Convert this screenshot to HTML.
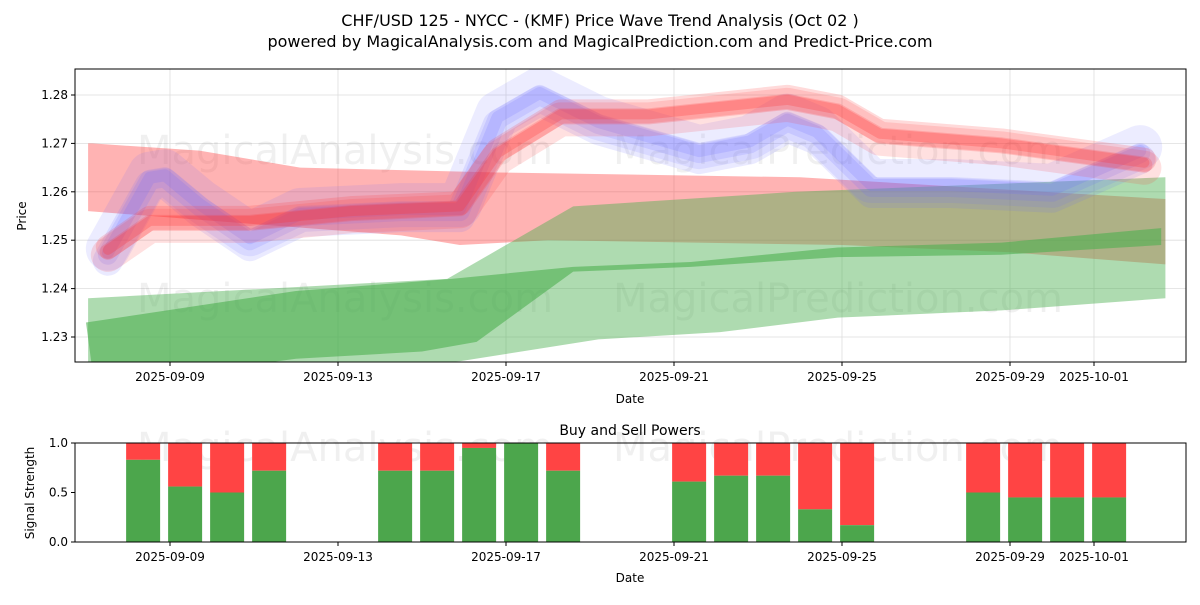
<!DOCTYPE html>
<html><head><meta charset="utf-8"><style>
body{margin:0;background:#fff;font-family:"Liberation Sans","DejaVu Sans",sans-serif;}
svg text{font-family:"DejaVu Sans","Liberation Sans",sans-serif;}
</style></head><body>
<svg id="c" width="1200" height="600" xmlns="http://www.w3.org/2000/svg">
<rect width="1200" height="600" fill="#fff"/>
<text x="600" y="26" font-size="16" text-anchor="middle">CHF/USD 125 - NYCC -  (KMF) Price Wave Trend Analysis (Oct 02 )</text>
<text x="600" y="47" font-size="16" text-anchor="middle">powered by MagicalAnalysis.com and MagicalPrediction.com and Predict-Price.com</text>
<g id="topPanel"></g>
<g id="botPanel"></g>
</svg>
<script>
// x in days relative to 2025-09-09
const tickDays=[0,4,8,12,16,20,22];
const tickLabels=["2025-09-09","2025-09-13","2025-09-17","2025-09-21","2025-09-25","2025-09-29","2025-10-01"];
const priceTicks=[1.23,1.24,1.25,1.26,1.27,1.28];
const redBandX=[-1.95,-1.85,0.7,3.1,7.8,15,23.7];
const redBandTop=[1.270,1.270,1.2685,1.265,1.264,1.263,1.2585];
const redBandBotX=[-1.95,5.5,6.9,9.0,16,20,23.7];
const redBandBot=[1.256,1.251,1.249,1.250,1.249,1.2475,1.245];
const lgX=[-1.95,6.6,9.6,14.9,23.7];
const lgTop=[1.238,1.242,1.257,1.260,1.263];
const lgBotX=[-1.95,6.9,10.2,13.1,15.9,19.8,23.7];
const lgBot=[1.220,1.225,1.2295,1.231,1.234,1.2355,1.238];
const dgX=[-2.0,3,6.7,9.6,12.4,15.9,19.8,23.6];
const dgTop=[1.233,1.2395,1.242,1.2445,1.2455,1.2485,1.2495,1.2525];
const dgBotX=[-1.8,3,6,7.3,9.6,12.4,15.9,19.8,23.6];
const dgBot=[1.220,1.2255,1.227,1.229,1.2435,1.2445,1.2465,1.247,1.249];
const blueX=[-1.48,-0.48,-0.12,0.71,1.9,3.1,5.5,6.9,7.8,8.8,10.2,12.6,13.8,14.7,15.4,16.7,18.6,21,23.1];
const blueV=[1.247,1.2625,1.263,1.257,1.250,1.255,1.256,1.256,1.275,1.280,1.274,1.268,1.270,1.2745,1.272,1.261,1.261,1.260,1.268];
const redX=[-1.48,-0.48,1.9,4.3,6.9,7.8,9.3,11.4,14.7,15.9,16.9,19.8,23.2];
const redV=[1.248,1.254,1.254,1.256,1.257,1.268,1.276,1.276,1.279,1.277,1.272,1.270,1.266];
const barDays=[-0.64,0.36,1.36,2.36,5.36,6.36,7.36,8.36,9.36,12.36,13.36,14.36,15.36,16.36,19.36,20.36,21.36,22.36];
const buyVals=[0.83,0.56,0.5,0.72,0.72,0.72,0.95,1.0,0.72,0.61,0.67,0.67,0.33,0.17,0.5,0.45,0.45,0.45];

const NS="http://www.w3.org/2000/svg";
const L=75,R=1186,T=69,B=362,BT=443,BB=542;
const xs=d=>170+d*42;
const ys=v=>95+(1.28-v)*4840;
const ys2=v=>BB-v*99;
function mk(tag,at,parent){const e=document.createElementNS(NS,tag);for(const k in at)e.setAttribute(k,at[k]);parent.appendChild(e);return e;}
const topG=document.getElementById('topPanel'),botG=document.getElementById('botPanel');
const defs=mk('defs',{},topG);
const cp=mk('clipPath',{id:'cp'},defs);mk('rect',{x:L,y:T,width:R-L,height:B-T},cp);
const cp2=mk('clipPath',{id:'cp2'},defs);mk('rect',{x:L,y:BT,width:R-L,height:BB-BT},cp2);
for(const d of tickDays){
 const g=mk('line',{x1:xs(d),x2:xs(d),y1:T,y2:B,stroke:'#ddd','stroke-width':0.8},topG);
 
 
}
for(const v of priceTicks){
 const g=mk('line',{x1:L,x2:R,y1:ys(v),y2:ys(v),stroke:'#ddd','stroke-width':0.8},topG);
 
 
}
[[345,150,'MagicalAnalysis.com'],[838,150,'MagicalPrediction.com'],[345,298,'MagicalAnalysis.com'],[838,298,'MagicalPrediction.com'],[345,447,'MagicalAnalysis.com'],[838,447,'MagicalPrediction.com']].forEach(w=>{
 const t=mk('text',{x:w[0],y:w[1]+14,'font-size':40,'text-anchor':'middle',fill:'#000','fill-opacity':0.06},topG);t.textContent=w[2];
 
 
});
const plot=mk('g',{'clip-path':'url(#cp)'},topG);
function band(tx,tv,bx,bv,fill,op,name){
 let pts=tx.map((d,i)=>xs(d)+','+ys(tv[i]));
 for(let i=bx.length-1;i>=0;i--)pts.push(xs(bx[i])+','+ys(bv[i]));
 const p=mk('polygon',{points:pts.join(' '),fill:fill,'fill-opacity':op},plot);
 
 
}
band(redBandX,redBandTop,redBandBotX,redBandBot,'#ff4040',0.4,'red-band');
band(lgX,lgTop,lgBotX,lgBot,'#4caf50',0.45,'light-green-band');
band(dgX,dgTop,dgBotX,dgBot,'#4caf50',0.6,'dark-green-band');
function wave(xa,va,col,w,off,op,name){
 const pts=xa.map((d,i)=>xs(d)+','+(ys(va[i])+off)).join(' ');
 const p=mk('polyline',{points:pts,fill:'none',stroke:col,'stroke-width':w,'stroke-opacity':op,'stroke-linejoin':'round','stroke-linecap':'round'},plot);
 
 
}
[[44,-6,0.13],[30,6,0.14],[20,0,0.16],[12,-2,0.18]].forEach(s=>wave(blueX,blueV,'#6a6aff',s[0],s[1],s[2],'blue-wave-band'));
[[34,5,0.15],[24,-3,0.18],[16,2,0.2],[10,0,0.25]].forEach(s=>wave(redX,redV,'#ff3030',s[0],s[1],s[2],'red-wave-band'));
mk('rect',{x:L,y:T,width:R-L,height:B-T,fill:'none',stroke:'#000','stroke-width':1},topG);
for(let i=0;i<tickDays.length;i++){
 mk('line',{x1:xs(tickDays[i]),x2:xs(tickDays[i]),y1:B,y2:B+4,stroke:'#000'},topG);
 const t=mk('text',{x:xs(tickDays[i]),y:B+19,'font-size':12,'text-anchor':'middle'},topG);t.textContent=tickLabels[i];
 
 
}
for(const v of priceTicks){
 mk('line',{x1:L-4,x2:L,y1:ys(v),y2:ys(v),stroke:'#000'},topG);
 const t=mk('text',{x:L-7,y:ys(v)+4,'font-size':12,'text-anchor':'end'},topG);t.textContent=v.toFixed(2);
 
 
}
let tx1=mk('text',{x:630,y:403,'font-size':12,'text-anchor':'middle'},topG);tx1.textContent='Date';


let tx2=mk('text',{x:26,y:216,'font-size':12,'text-anchor':'middle',transform:'rotate(-90 26 216)'},topG);tx2.textContent='Price';



let tx3=mk('text',{x:630,y:435,'font-size':14,'text-anchor':'middle'},botG);tx3.textContent='Buy and Sell Powers';


const bp=mk('g',{'clip-path':'url(#cp2)'},botG);
for(let i=0;i<barDays.length;i++){
 const cx=xs(barDays[i]);
 const s=mk('rect',{x:cx-17,y:ys2(1),width:34,height:ys2(buyVals[i])-ys2(1),fill:'#ff4444'},bp);
 
 
 const b=mk('rect',{x:cx-17,y:ys2(buyVals[i]),width:34,height:BB-ys2(buyVals[i]),fill:'#4ca64c'},bp);
 
 
}
mk('rect',{x:L,y:BT,width:R-L,height:BB-BT,fill:'none',stroke:'#000'},botG);
for(let i=0;i<tickDays.length;i++){
 mk('line',{x1:xs(tickDays[i]),x2:xs(tickDays[i]),y1:BB,y2:BB+4,stroke:'#000'},botG);
 const tt=mk('text',{x:xs(tickDays[i]),y:BB+19,'font-size':12,'text-anchor':'middle'},botG);tt.textContent=tickLabels[i];
 
 
}
[0,0.5,1].forEach(v=>{
 mk('line',{x1:L-4,x2:L,y1:ys2(v),y2:ys2(v),stroke:'#000'},botG);
 const tt=mk('text',{x:L-7,y:ys2(v)+4,'font-size':12,'text-anchor':'end'},botG);tt.textContent=v.toFixed(1);
 
 
});
let tx4=mk('text',{x:630,y:582,'font-size':12,'text-anchor':'middle'},botG);tx4.textContent='Date';


let tx5=mk('text',{x:34,y:493,'font-size':12,'text-anchor':'middle',transform:'rotate(-90 34 493)'},botG);tx5.textContent='Signal Strength';


</script>
</body></html>
